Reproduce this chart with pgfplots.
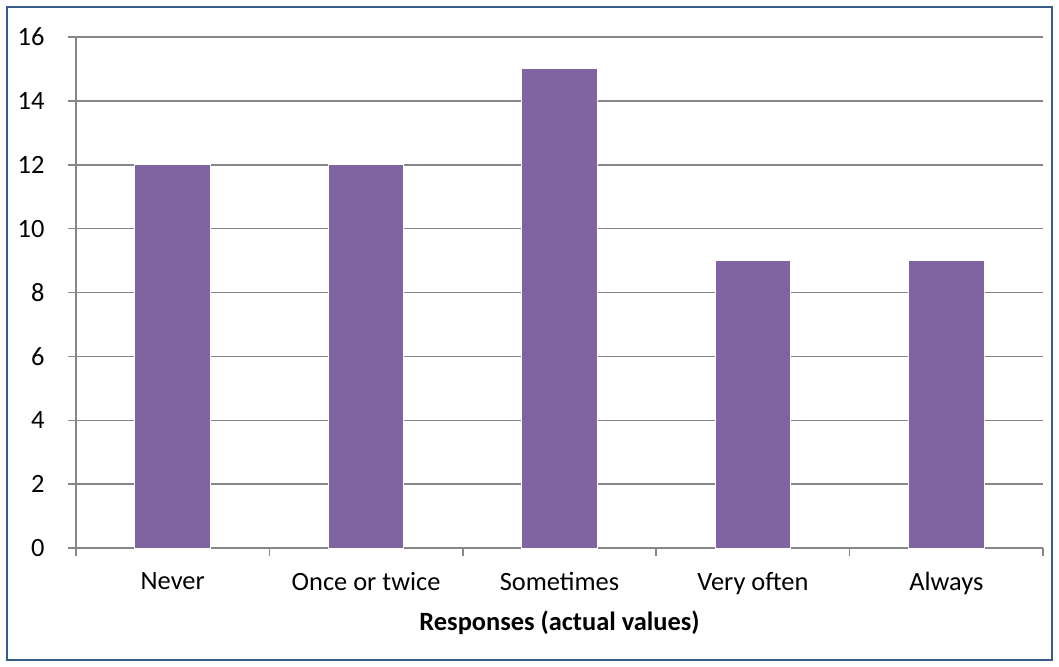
\documentclass[border=0pt]{standalone}
\usepackage{fontspec}
\setmainfont{Carlito}
\usepackage{pgfplots}
\pgfplotsset{compat=1.18}
\definecolor{barpurple}{HTML}{8064A2}
\definecolor{gridgray}{HTML}{868686}
\definecolor{frameblue}{HTML}{385D8A}
\begin{document}
\begin{tikzpicture}
  \useasboundingbox (0,0) rectangle (1059bp,-667bp);
  \draw[frameblue, line width=2bp] (7bp,-7bp) rectangle (1052bp,-660bp);
  \begin{axis}[
      at={(76bp,-548bp)}, anchor=south west,
      scale only axis,
      width=967bp, height=511bp,
      xmin=-0.5, xmax=4.5,
      ymin=0, ymax=16,
      ytick distance=2,
      axis x line*=bottom,
      axis y line*=left,
      axis line style={gridgray, line width=1.5bp, -},
      ymajorgrids,
      grid style={gridgray, line width=1.5bp},
      tick align=outside,
      tick style={gridgray, line width=1.5bp},
      major tick length=8bp,
      xtick={-0.5,0.5,1.5,2.5,3.5,4.5},
      xticklabels={},
      extra x ticks={0,1,2,3,4},
      extra x tick labels={Never,Once or twice,Sometimes,Very often,Always},
      extra x tick style={tick style={draw=none},
        ticklabel style={yshift=-13bp}},
      ticklabel style={font=\fontsize{26.5}{32}\selectfont, text=black},
      /pgf/number format/assume math mode=true,
      yticklabel style={xshift=-20bp},
      xlabel={\textbf{Responses (actual values)}},
      xlabel style={font=\fontsize{26.5}{32}\selectfont, yshift=-1bp},
    ]
    \addplot[ybar, bar width=0.39, fill=barpurple, draw=white, line width=1bp]
      coordinates {(0,12) (1,12) (2,15) (3,9) (4,9)};
  \end{axis}
\end{tikzpicture}
\end{document}
